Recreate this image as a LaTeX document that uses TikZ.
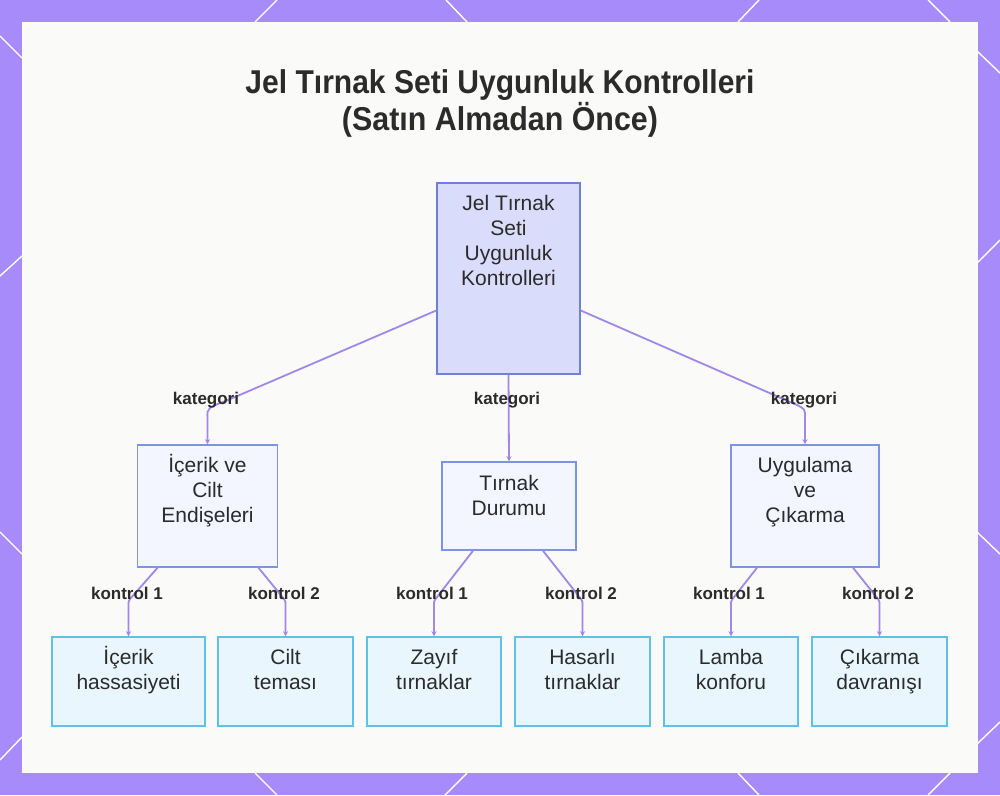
\documentclass[tikz,border=0pt]{standalone}
\usepackage{fontspec}
\usepackage{graphicx}
\setmainfont{Liberation Sans}
\usetikzlibrary{arrows.meta}
\definecolor{bgpurple}{HTML}{A78BFA}
\definecolor{panelc}{HTML}{FAFAF9}
\definecolor{edgec}{HTML}{9F88E6}
\definecolor{rootfill}{HTML}{D9DCFB}
\definecolor{rootdraw}{HTML}{6F80D8}
\definecolor{catfill}{HTML}{F3F5FF}
\definecolor{catdraw}{HTML}{7D94E4}
\definecolor{leaffill}{HTML}{E9F6FE}
\definecolor{leafdraw}{HTML}{5CC3E6}
\definecolor{txtc}{HTML}{2B2B2B}
\newcommand\fl{\rule{0pt}{28pt}}
\begin{document}
\begin{tikzpicture}[x=1pt,y=-1pt,
  rootbox/.style={rectangle,draw=rootdraw,fill=rootfill,line width=1.5pt,inner sep=0pt},
  catbox/.style={rectangle,draw=catdraw,fill=catfill,line width=1.5pt,inner sep=0pt},
  leafbox/.style={rectangle,draw=leafdraw,fill=leaffill,line width=1.5pt,inner sep=0pt,minimum height=89pt},
  boxtext/.style={font=\fontsize{21}{25}\selectfont,text=txtc,align=center,inner sep=0pt,anchor=north},
  lbl/.style={font=\bfseries\fontsize{17}{20}\selectfont,text=txtc,inner sep=1pt},
  titletext/.style={font=\bfseries\fontsize{33}{36}\selectfont,text=txtc,inner sep=0pt,anchor=base},
  edge/.style={draw=edgec,line width=1.8pt,line join=round,-{Stealth[length=5pt,width=5pt]}},
  lattice/.style={draw=white,line width=1.4pt}]
\useasboundingbox (0,0) rectangle (1000,795);
\fill[bgpurple] (0,0) rectangle (1000,795);
% lattice lines in the border
\draw[lattice] (277,0) -- (255,22) (446,0) -- (467,22) (759,0) -- (738,22) (928,0) -- (950,22);
\draw[lattice] (255,773) -- (277,795) (467,773) -- (445,795) (738,773) -- (759,795) (950,773) -- (928,795);
\draw[lattice] (0,36) -- (22,58) (0,276) -- (22,256) (0,532) -- (22,554) (0,760) -- (22,737);
\draw[lattice] (977,51) -- (1000,73) (977,263) -- (1000,240) (977,532) -- (1000,554) (977,744) -- (1000,722);
\fill[panelc] (22,22) rectangle (978,773);

% title
\node[titletext] (t1) at (500,93) {\resizebox{509pt}{\height}{Jel Tırnak Seti Uygunluk Kontrolleri}};
\node[titletext] (t2) at (500,130) {\resizebox{316pt}{\height}{(Satın Almadan Önce)}};

% root
\node[rootbox,minimum width=143pt,minimum height=191pt] (r) at (508.5,278.5) {};
\node[boxtext] (rt) at (r.north) {\fl Jel Tırnak\\Seti\\Uygunluk\\Kontrolleri};

% categories
\node[catbox,minimum width=140pt,minimum height=122pt] (c1) at (207.5,506) {};
\node[boxtext] (c1t) at (c1.north) {\fl İçerik ve\\Cilt\\Endişeleri};
\node[catbox,minimum width=134pt,minimum height=88pt] (c2) at (509,506) {};
\node[boxtext] (c2t) at ([yshift=-1pt]c2.north) {\fl Tırnak\\Durumu};
\node[catbox,minimum width=148pt,minimum height=122pt] (c3) at (805,506) {};
\node[boxtext] (c3t) at (c3.north) {\fl Uygulama\\ve\\Çıkarma};

% leaves
\node[leafbox,minimum width=153pt] (l1) at (128.5,681.5) {};
\node[boxtext] (l1t) at (l1.north) {\fl İçerik\\hassasiyeti};
\node[leafbox,minimum width=135pt] (l2) at (285.5,681.5) {};
\node[boxtext] (l2t) at (l2.north) {\fl Cilt\\teması};
\node[leafbox,minimum width=134pt] (l3) at (434,681.5) {};
\node[boxtext] (l3t) at (l3.north) {\fl Zayıf\\tırnaklar};
\node[leafbox,minimum width=135pt] (l4) at (582.5,681.5) {};
\node[boxtext] (l4t) at (l4.north) {\fl Hasarlı\\tırnaklar};
\node[leafbox,minimum width=134pt] (l5) at (731,681.5) {};
\node[boxtext] (l5t) at (l5.north) {\fl Lamba\\konforu};
\node[leafbox,minimum width=135pt] (l6) at (879.5,681.5) {};
\node[boxtext] (l6t) at (l6.north) {\fl Çıkarma\\davranışı};

% connectors root -> categories
\draw[edge] ([yshift=-32pt]r.west) -- (228,400) .. controls (207,408) .. (207.5,418) -- (c1.north);
\draw[edge] (r.south) -- (c2.north);
\draw[edge] ([yshift=-32pt]r.east) -- (797,405) .. controls (805,409) .. (805,418) -- (c3.north);

% connectors categories -> leaves
\draw[edge] ([xshift=-50pt]c1.south) -- (130,599) .. controls (128.5,601) .. (128.5,606) -- (l1.north);
\draw[edge] ([xshift=51pt]c1.south) -- (284,599) .. controls (285.5,601) .. (285.5,606) -- (l2.north);
\draw[edge] ([xshift=-36pt]c2.south) -- (435.5,599) .. controls (434,601) .. (434,606) -- (l3.north);
\draw[edge] ([xshift=34pt]c2.south) -- (581,599) .. controls (582.5,601) .. (582.5,606) -- (l4.north);
\draw[edge] ([xshift=-48pt]c3.south) -- (732.5,599) .. controls (731,601) .. (731,606) -- (l5.north);
\draw[edge] ([xshift=48pt]c3.south) -- (878,599) .. controls (879.5,601) .. (879.5,606) -- (l6.north);

% edge labels
\node[lbl] (k1) at (206,400) {kategori};
\node[lbl] (k2) at (507,400) {kategori};
\node[lbl] (k3) at (804,400) {kategori};
\node[lbl] (e1) at (127,593) {kontrol 1};
\node[lbl] (e2) at (284,593) {kontrol 2};
\node[lbl] (e3) at (432,593) {kontrol 1};
\node[lbl] (e4) at (581,593) {kontrol 2};
\node[lbl] (e5) at (729,593) {kontrol 1};
\node[lbl] (e6) at (878,593) {kontrol 2};
\end{tikzpicture}
\end{document}
